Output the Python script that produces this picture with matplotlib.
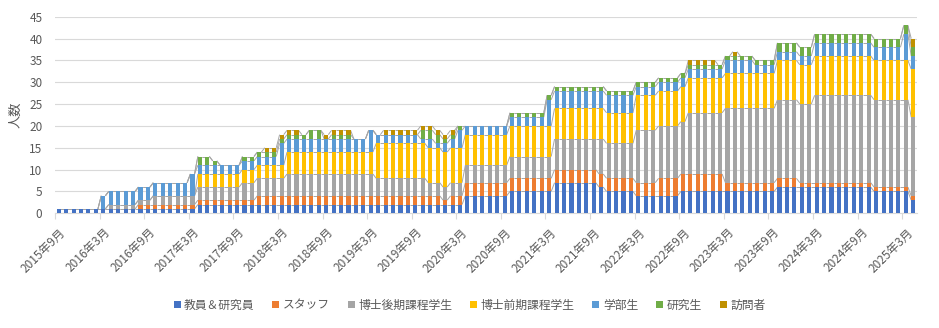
import numpy as np
import pandas as pd
import matplotlib
matplotlib.use('Agg')
import matplotlib.pyplot as plt
from matplotlib.collections import LineCollection
from matplotlib.patches import Patch
from matplotlib.transforms import ScaledTranslation

plt.rcParams['font.family'] = ['Noto Sans CJK JP', 'DejaVu Sans']

# monthly head count, 2015-09 .. 2025-04 (12 values per line, line starts in September)
faculty = [1,1,1,1,1,1,1,1,1,1,1,1,
           1,1,1,1,1,1,1,2,2,2,2,2,
           2,2,2,2,2,2,2,2,2,2,2,2,
           2,2,2,2,2,2,2,2,2,2,2,2,
           2,2,2,2,2,2,2,4,4,4,4,4,
           4,5,5,5,5,5,5,7,7,7,7,7,
           7,6,5,5,5,5,4,4,4,4,4,4,
           5,5,5,5,5,5,5,5,5,5,5,5,
           5,6,6,6,6,6,6,6,6,6,6,6,
           6,6,5,5,5,5,5,3]
staff = [0,0,0,0,0,0,0,0,0,0,0,1,
         1,1,1,1,1,1,1,1,1,1,1,1,
         1,1,1,2,2,2,2,2,2,2,2,2,
         2,2,2,2,2,2,2,2,2,2,2,2,
         2,2,2,2,1,2,2,3,3,3,3,3,
         3,3,3,3,3,3,3,3,3,3,3,3,
         3,3,3,3,3,3,3,3,3,4,4,4,
         4,4,4,4,4,4,2,2,2,2,2,2,
         2,2,2,2,1,1,1,1,1,1,1,1,
         1,1,1,1,1,1,1,1]
doctor = [0,0,0,0,0,0,0,1,1,1,1,1,
          1,2,2,2,2,2,2,3,3,3,3,3,
          3,4,4,4,4,4,4,5,5,5,5,5,
          5,5,5,5,5,5,5,4,4,4,4,4,
          4,4,3,3,3,3,3,4,4,4,4,4,
          4,5,5,5,5,5,5,7,7,7,7,7,
          7,8,8,8,8,8,12,12,12,12,12,12,
          12,14,14,14,14,14,17,17,17,17,17,17,
          17,18,18,18,18,18,20,20,20,20,20,20,
          20,20,20,20,20,20,20,18]
master = [0,0,0,0,0,0,0,0,0,0,0,0,
          0,0,0,0,0,0,0,3,3,3,3,3,
          3,3,3,3,3,3,3,5,5,5,5,5,
          5,5,5,5,5,5,5,8,8,8,8,8,
          8,8,8,8,8,8,8,7,7,7,7,7,
          7,7,7,7,7,7,7,7,7,7,7,7,
          7,7,7,7,7,7,8,8,8,8,8,8,
          8,8,8,8,8,8,8,8,8,8,8,8,
          8,9,9,9,9,9,9,9,9,9,9,9,
          9,9,9,9,9,9,9,11]
undergrad = [0,0,0,0,0,0,3,3,3,3,3,3,
             3,3,3,3,3,3,5,2,2,2,2,2,
             2,2,2,2,2,2,5,3,3,3,3,3,
             3,3,3,3,3,3,5,2,2,2,2,2,
             2,1,2,1,2,2,4,2,2,2,2,2,
             2,2,2,2,2,2,6,4,4,4,4,4,
             4,4,4,4,4,4,2,2,2,2,2,2,
             2,2,2,2,2,2,3,3,3,3,2,2,
             2,2,2,2,2,2,3,3,3,3,3,3,
             3,3,3,3,3,3,6,3]
research = [0,0,0,0,0,0,0,0,0,0,0,0,
            0,0,0,0,0,0,0,2,2,1,0,0,
            0,1,1,1,1,1,1,1,1,1,2,2,
            0,1,1,1,0,0,0,0,0,0,0,0,
            0,2,2,2,1,1,1,0,0,0,0,0,
            0,1,1,1,1,1,1,1,1,1,1,1,
            1,1,1,1,1,1,1,1,1,1,1,1,
            1,1,1,1,1,1,1,1,1,1,1,1,
            1,2,2,2,2,2,2,2,2,2,2,2,
            2,2,2,2,2,2,2,2]
visitor = [0,0,0,0,0,0,0,0,0,0,0,0,
           0,0,0,0,0,0,0,0,0,0,0,0,
           0,0,0,0,1,1,1,1,1,0,0,0,
           1,1,1,1,0,0,0,0,1,1,1,1,
           1,1,1,1,1,1,0,0,0,0,0,0,
           0,0,0,0,0,0,0,0,0,0,0,0,
           0,0,0,0,0,0,0,0,0,0,0,0,
           0,1,1,1,1,0,0,1,0,0,0,0,
           0,0,0,0,0,0,0,0,0,0,0,0,
           0,0,0,0,0,0,0,2]

names = ['教員＆研究員', 'スタッフ', '博士後期課程学生', '博士前期課程学生', '学部生', '研究生', '訪問者']
colors = ['#4472C4', '#ED7D31', '#A5A5A5', '#FFC000', '#5B9BD5', '#70AD47', '#BF9000']
series = [faculty, staff, doctor, master, undergrad, research, visitor]

months = pd.period_range('2015-09', periods=len(faculty), freq='M')
n = len(months)
x = np.arange(n)
w = 0.55

fig = plt.figure(figsize=(9.39, 3.28), dpi=100)
ax = fig.add_axes([55/939, 1-213.3/328, 862/939, 196.6/328])

bottom = np.zeros(n)
for vals, name, c in zip(series, names, colors):
    v = np.array(vals, dtype=float)
    ax.bar(x, v, w, bottom=bottom, color=c, linewidth=0, label=name, zorder=3)
    top = bottom + v
    segs = [[(i + w/2, top[i]), (i + 1 - w/2, top[i+1])] for i in range(n-1)]
    ax.add_collection(LineCollection(segs, colors='#A6A6A6', linewidths=0.7, zorder=2))
    bottom = top

ax.set_xlim(-0.5, n - 0.5)
ax.set_ylim(0, 45)
ax.set_yticks(range(0, 50, 5))
ax.yaxis.grid(True, color='#D9D9D9', lw=0.8)
ax.set_axisbelow(True)
for s in ['top', 'right', 'left']:
    ax.spines[s].set_visible(False)
ax.spines['bottom'].set_color('#D9D9D9')
ax.tick_params(axis='y', length=0, pad=9, labelsize=8.5, labelcolor='#595959')

tick_idx = np.arange(0, n, 6)
labels = [f'{m.year}年{m.month}月' for m in months[tick_idx]]
ax.set_xticks(tick_idx - 0.5)
ax.set_xticklabels(labels, rotation=45, ha='right', va='top', rotation_mode='anchor')
ax.tick_params(axis='x', length=4, color='#D9D9D9', pad=5, labelsize=8.5, labelcolor='#595959')
shift = ScaledTranslation(4/100, 0, fig.dpi_scale_trans)
for lab in ax.get_xticklabels():
    lab.set_transform(lab.get_transform() + shift)

fig.text(16/939, 0.65, '人数', rotation=90, ha='center', va='center', fontsize=9.5, color='#595959')

handles = [Patch(facecolor=c, edgecolor='none') for c in colors]
fig.legend(handles, names, loc='center', bbox_to_anchor=(0.5, 0.07), ncol=7, frameon=False,
           fontsize=8.5, handlelength=0.6, handleheight=0.6, handletextpad=0.3,
           columnspacing=1.5, labelcolor='#595959')

fig.savefig('out.png', dpi=100)
